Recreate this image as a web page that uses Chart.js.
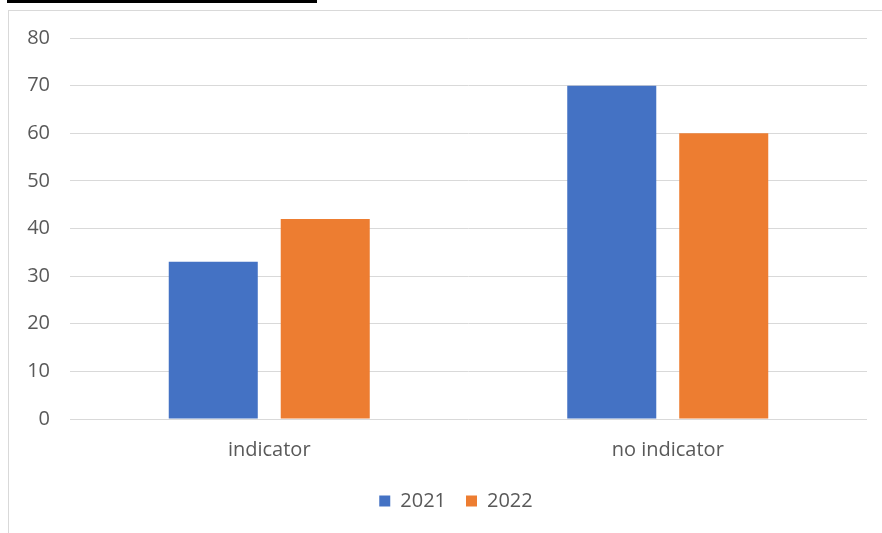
<!DOCTYPE html>
<html>
<head>
<meta charset="utf-8">
<script src="https://cdn.jsdelivr.net/npm/chart.js@4"></script>
<style>
  body { margin: 0; background: #fff; }
  #rule { position: absolute; left: 7px; top: 0; width: 310px; height: 3px; background: #000; }
  #box { position: absolute; left: 8px; top: 10px; width: 880px; height: 530px;
         border: 1px solid #d9d9d9; box-sizing: border-box; }
  #wrap { position: absolute; left: 0; top: 0; width: 874px; height: 523px; }
</style>
</head>
<body>
<div id="rule"></div>
<div id="box"><div id="wrap"><canvas id="chart"></canvas></div></div>
<script>
const categories = ["indicator", "no indicator"];
const seriesNames = ["2021", "2022"];
const values2021 = [33, 70];
const values2022 = [42, 60];
const yTicks = [0, 10, 20, 30, 40, 50, 60, 70, 80];

const textColor = "#595959";
const font = { family: "'Open Sans', sans-serif", size: 20 };

// the legend in the original sits a bit right of the canvas centre
const legendShift = {
  id: "legendShift",
  afterLayout(chart) {
    chart.legend.left += 18;
    chart.legend.right += 18;
  },
};

new Chart(document.getElementById("chart"), {
  type: "bar",
  data: {
    labels: categories,
    datasets: [
      { label: seriesNames[0], data: values2021, backgroundColor: "#4472C4" },
      { label: seriesNames[1], data: values2022, backgroundColor: "#ED7D31" },
    ],
  },
  plugins: [legendShift],
  options: {
    responsive: true,
    maintainAspectRatio: false,
    animation: false,
    categoryPercentage: 0.562,
    barPercentage: 0.795,
    layout: { padding: { top: 27, right: 16, bottom: 13, left: 0 } },
    plugins: {
      legend: {
        position: "bottom",
        labels: { color: textColor, font: font, boxWidth: 11, boxHeight: 11, padding: 20 },
      },
      tooltip: { enabled: false },
    },
    scales: {
      x: {
        grid: { display: false, drawTicks: false },
        border: { display: false },
        ticks: { color: textColor, font: font, padding: 19 },
        afterFit: (scale) => { scale.height = 52; },
      },
      y: {
        min: 0,
        max: 80,
        afterBuildTicks: (scale) => { scale.ticks = yTicks.map((v) => ({ value: v })); },
        grid: { color: "#d9d9d9", lineWidth: 1, drawTicks: false },
        border: { display: false },
        ticks: { color: textColor, font: font, padding: 20 },
        afterFit: (scale) => {
          scale.width = 61;
          scale.paddingTop = 0;
          scale.paddingBottom = 0;
        },
      },
    },
  },
});
</script>
</body>
</html>
